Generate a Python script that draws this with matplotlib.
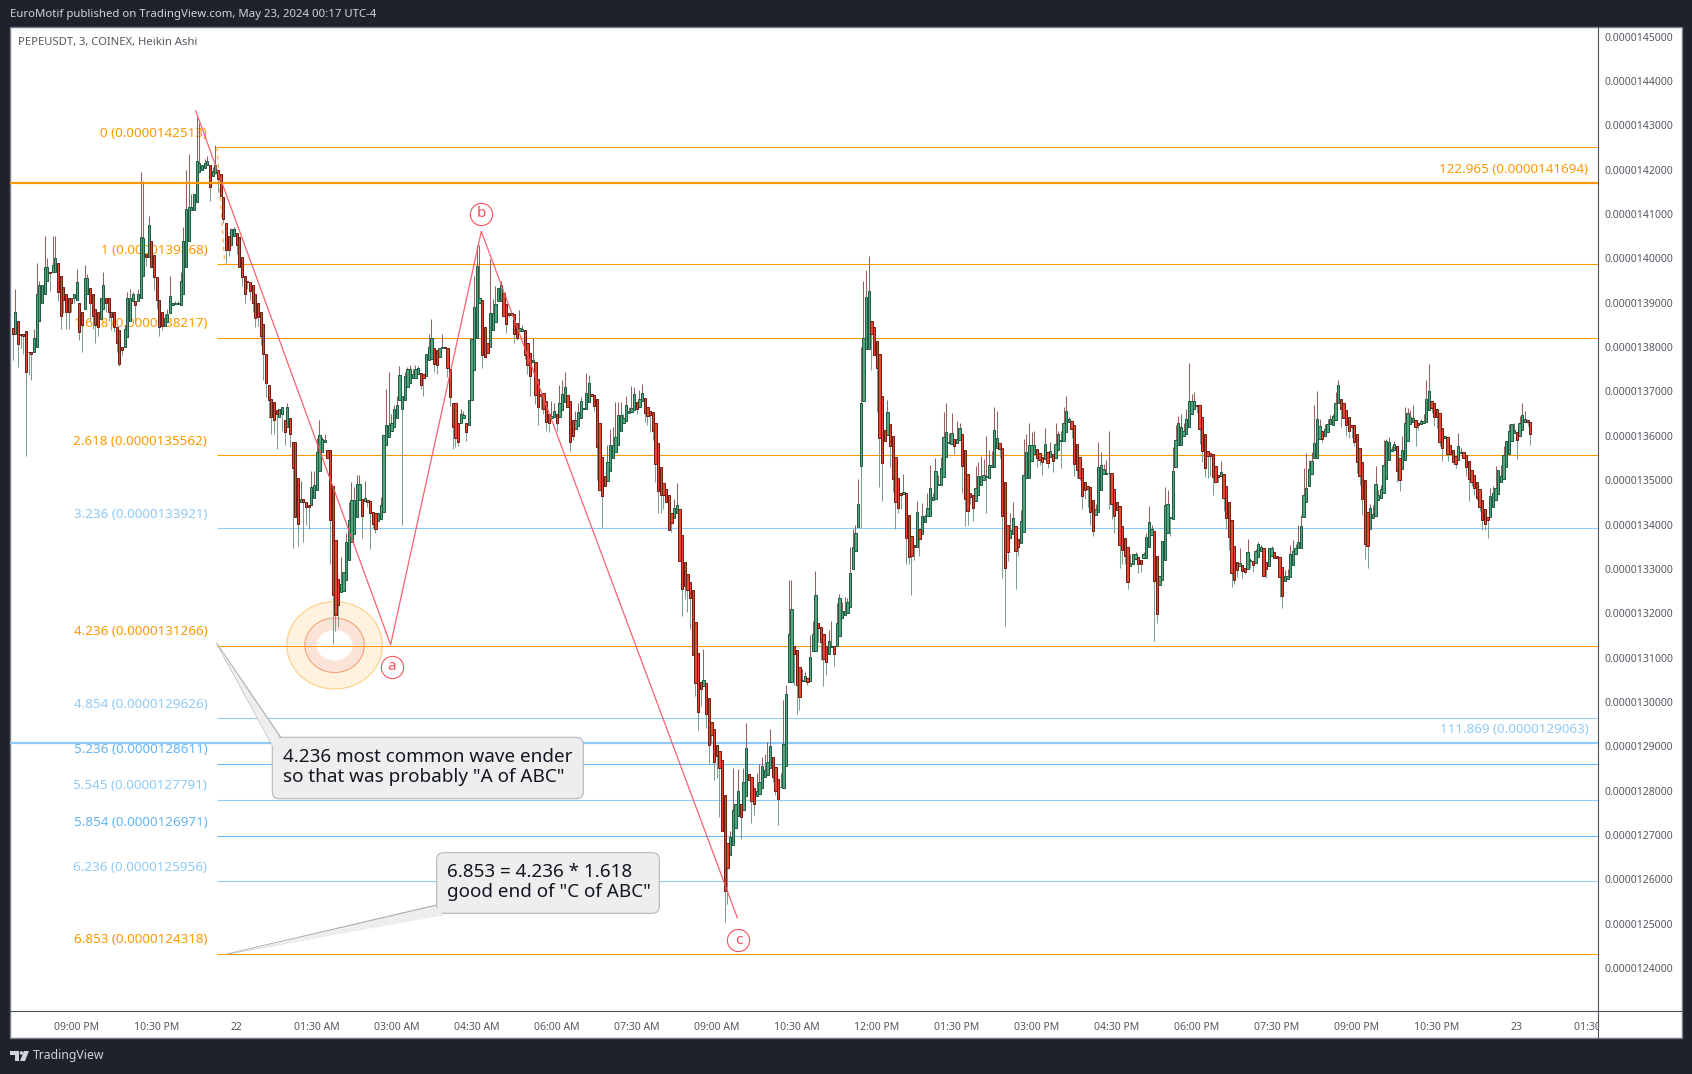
import numpy as np
import matplotlib
matplotlib.use("Agg")
import matplotlib.pyplot as plt
from matplotlib.patches import Ellipse, FancyBboxPatch, Polygon, Rectangle, Circle
from matplotlib.transforms import Affine2D, Bbox, TransformedBbox, IdentityTransform

plt.rcParams['font.family'] = ['Noto Sans', 'DejaVu Sans']

# Heikin Ashi candles (price in units of 0.00000001)
ha_open = [
    1384.3,1383,1386,1383,1383,1383.7,1379,1379,1379,1380,
    1386,1390,1392,1395,1397,1397,1397,1399,1396,1393.6,
    1392,1391,1391,1391,1390.6,1390,1388,1388.7,1392,1393.4,
    1392,1388.7,1388,1386.4,1388.7,1391,1391,1388,1388,1384.6,
    1383.8,1380,1380,1382.3,1386,1390.5,1390.5,1390.5,1391,1396,
    1401,1400.4,1404,1400.7,1395.8,1390.6,1388,1384.8,1385.7,1387.6,
    1389.6,1389.7,1389.7,1389.6,1392,1398,1404,1411,1411,1412.7,
    1419.5,1420,1420.5,1421,1421,1418.5,1419.3,1420,1419,1413.9,
    1408,1405,1403,1405,1405.8,1404.8,1400.3,1396,1395,1394.7,
    1394,1392,1390,1388,1385.3,1378.5,1371.5,1368.4,1367.6,1365.8,
    1364.2,1365,1363.5,1362,1364,1358.6,1358.6,1350.4,
    1345,1345.8,1345,1344.4,1344.3,1346,1347.7,1352,1356.4,1358.5,
    1356.7,1356.7,1348.7,1336.4,1327.8,1324.8,1325,1327.4,1332,1336,
    1337.9,1341.7,1345.5,1345.8,1345.2,1345.5,1345.4,1342.8,1342.5,1340.7,1341.2,1342.8,
    1358,1359.8,1361,1362,1364,1368,1366,1368,1371,1372,
    1373,1373,1374,1374.2,1374,1373.5,1377,1377.4,1379.7,1379.3,
    1377.8,1379.8,1380,1379.8,1375,1367.5,1367.3,1363,1363,1364,
    1363,1362.4,1368,1374.8,1382,1390,1390.6,1384.5,1381,1380,
    1383.8,1385.7,1390.3,1390.3,1392.3,1389.8,1387.8,1387.8,1387.5,1385.5,
    1383.6,1383.6,1383.8,1381,1378.7,1376.6,1376.6,1372.9,1369.5,1369.7,
    1367.8,1365,1364,1364.2,1365,1364.2,1365.8,1367.6,1369.3,1367.8,
    1363.5,1361.5,1362.3,1364,1366,1366,1367.6,1369.4,1369.2,1368.2,
    1363,1355.2,1351,1349.8,1352,1355,1356.4,1358,1361.2,1363,
    1363.3,1365.2,1365.3,1365.8,1367.6,1366.6,1367.8,1368.5,1366.6,1365.6,
    1365.4,1363,1358.4,1353,1349.3,1348,1346.7,1342.6,1341.5,1342.6,
    1343.4,1337.7,1331.6,1328.8,1327,1325.2,1318,1311,1304.5,1303.6,
    1304.2,1300.9,1295.5,1294,1290.2,1289,1287,1279,1268.2,1265.4,
    1267.7,1271.6,1274.3,1277,1275.7,1278.8,1283.8,1283,1280.5,1278.8,
    1279.3,1280.6,1283,1283.6,1285,1287.6,1285.3,1282.7,1280.7,1280.6,
    1285.6,1304.5,1304.5,1312.7,1311.6,1307.8,1304.8,1304.7,1305.3,1304.8,
    1311.5,1311.5,1317.8,1317,1315.2,1312.7,1310.7,1312.3,1312.7,1312.7,
    1314.8,1319,1319.7,1320,1321.4,1330,1334,1339.4,1353.3,1367.8,
    1379.6,1379.6,1386,1384.5,1381.3,1378.4,1368.9,1361.4,1360.2,1362.6,
    1360,1355.2,1350.5,1347,1346.8,1347,1342.2,1337.4,1335.3,1334.9,
    1339,1337.8,1340.6,1342,1342,1345.5,1345.8,1349,1349,1350.7,
    1355.2,1358.3,1358.2,1359.2,1358.4,1359,1360.5,1356.8,1351.3,1347.1,
    1346.6,1345.3,1346.6,1348.8,1350.1,1350.7,1350.4,1352.9,1352.9,1357.3,
    1358.4,1357.3,1349.6,1340,1337,1337.8,1339.7,1336.7,1335.8,1338.3,
    1350.5,1350.5,1354.3,1356,1357,1356.2,1355.2,1354.7,1356.4,1355.2,
    1355.8,1355,1356.7,1358.8,1358.8,1360.9,1363.1,1363.3,1362.4,1358.2,
    1355.2,1352.8,1349.6,1348.7,1348.5,1345.6,1342.2,1342.8,1347.7,1351.5,
    1351.4,1351.6,1351.6,1348,1345.1,1344.2,1339.7,1337,1335,1330.7,
    1331,1332.3,1332.7,1331.9,1332.5,1332.5,1335,1337.6,1338.5,1332.9,
    1326.3,1327.4,1332,1338,1341.4,1341.2,1353,1357.9,1357.9,1360,
    1360.4,1362,1365,1366.1,1367,1366.9,1364.3,1360.4,1356.6,1356.1,
    1355.8,1353.2,1351.2,1350.9,1351.3,1348.7,1345,1341,1335.2,1331.6,
    1330.7,1330.8,1330.2,1330,1331.7,1331.8,1331.3,1332.7,1334,1334.6,
    1331.6,1330.7,1333,1333.8,1333,1332.7,1330.4,1327.2,1327.8,1328.2,
    1330.8,1333.3,1334.7,1334.7,1341.8,1345,1348.7,1351.4,1355,1355,
    1359.2,1361.2,1360,1360.9,1362.7,1362.5,1363.5,1367.3,1368.2,1367.3,
    1365.9,1364.3,1362.5,1362.4,1360.4,1357.3,1354,1350,1342.8,1338.9,
    1341.4,1341.9,1345.5,1346,1347.1,1350.3,1354.5,1356.5,1356.7,1357.7,
    1354.9,1352.5,1354.5,1358.8,1362.6,1363.1,1363.6,1362.8,1362.7,1363,
    1363.1,1365.8,1367.9,1367.3,1366,1365.2,1361.8,1359.6,1359.7,1357.9,
    1356.9,1355.5,1354.6,1356.1,1356.3,1355.6,1354.3,1352.4,1351.2,1349.6,
    1347.9,1345.6,1343.6,1341.8,1341.7,1344,1345.5,1346.8,1349.6,1350.2,
    1353,1355.8,1358.8,1360.7,1360.9,1360,1361.4,1363.2,1363.5,1363.2,
]
ha_close = [
    1383,1388,1380.6,1382.8,1382.5,1374.4,1378.8,1378.5,1382,1392,
    1394,1394,1398,1398,1396.7,1398.5,1400,1392.5,1387,1390.6,
    1388,1388,1390,1392,1394.7,1383.5,1385,1395.5,1395.6,1390,
    1387,1385,1384.5,1391,1394,1390,1388,1386.8,1384.5,1381,
    1376.3,1379.3,1384,1391,1391,1392,1389.5,1392,1404.8,1404.5,
    1400.3,1407.5,1398,1395.8,1390.6,1384.6,1384.8,1386.5,1387.5,1391.5,
    1389.9,1390,1390,1395,1404,1411.2,1411.5,1411.5,1414.6,1422,
    1421.5,1421,1421.5,1422,1416,1419.7,1421,1418,1414,1408.9,
    1402,1402,1406.7,1406.7,1403,1398,1395.8,1392,1394.6,1392.6,
    1390,1386.5,1386.8,1382.5,1378.5,1371.8,1368,1364.3,1363.5,1365,
    1366,1366.5,1360.9,1366.5,1360.5,1352.8,1341.7,1340.2,
    1345.8,1345,1344,1344,1348.5,1349,1356.4,1360.1,1359.2,1359,
    1355,1341,1324,1319.5,1321.8,1326.7,1329.3,1336,1341,1345.5,
    1345.5,1349.2,1349.2,1342,1345.9,1345,1342.5,1340.2,1339,1342.5,1344.3,1360.1,
    1362.5,1362.5,1363,1366,1367,1373.7,1369,1373.5,1375,1375,
    1374,1375,1375.2,1371.5,1373,1378.5,1380,1382,1376.3,1376,
    1379.8,1380,1379.8,1375.3,1368.8,1362,1359.4,1358.6,1365,1364.6,
    1360.9,1368,1381.9,1389,1398.3,1391,1378.3,1377.8,1378.7,1387.8,
    1387.8,1389.8,1393.3,1394,1387,1385.3,1387.3,1387.2,1383,1382,
    1384.3,1384,1378.3,1376,1373.6,1377,1369.1,1366.5,1369,1366,
    1363.1,1362.8,1364.4,1365.5,1363,1367.5,1369.5,1371,1366.5,1358.6,
    1360,1363.5,1365.3,1367.8,1366.2,1369.7,1371.8,1369,1366.7,1357.5,
    1347.7,1346.4,1348.7,1354,1358,1358,1359.7,1364.6,1364.6,1364,
    1367,1365.5,1366.3,1369.5,1366,1368.3,1369.7,1365.2,1364.5,1364.8,
    1361,1353.6,1347.5,1346.6,1346.6,1345,1338.7,1340.3,1343.7,1344.4,
    1331.7,1325.4,1326.1,1325.3,1323.4,1310.5,1304.3,1297.7,1303,1304.9,
    1297.2,1290.2,1292.5,1286.5,1287.8,1285,1271,1257.4,1262.5,1269.5,
    1275.6,1277,1279.9,1274,1282,1289.5,1282.3,1277.7,1277,1280,
    1282,1285.6,1284.7,1286.5,1290,1283,1280,1278.2,1280.9,1290.4,
    1301.8,1315.4,1321,1310.7,1303.7,1301.2,1305,1305.8,1304.4,1310.1,
    1315.2,1324.2,1316.6,1313.5,1309.6,1309,1313.7,1312.7,1310.7,1317.8,
    1323.4,1320.6,1320.6,1322.5,1329,1335,1338,1344.7,1367.5,1382,
    1391.3,1392.6,1382.9,1378.3,1375.3,1359.5,1353.9,1358.8,1365.4,1357.7,
    1350.3,1345,1343.7,1346.6,1347.3,1337,1332.6,1333,1334.9,1342.8,
    1336.8,1341.9,1341.9,1343.7,1348.2,1346.2,1352,1349.2,1352.7,1359.7,
    1360.8,1358.6,1360.6,1357.8,1359.3,1361.8,1353.2,1345.7,1343,1346.2,
    1343.7,1348.2,1351,1351,1351.2,1350.9,1353.4,1353.5,1361.4,1359.5,
    1357,1341.9,1330.2,1333.8,1338.7,1341.5,1334,1335,1340.7,1351.2,
    1356.4,1357.9,1357.9,1358,1355,1354.5,1354.1,1358.2,1353.8,1356.5,
    1354.3,1358.2,1360.5,1359,1362.9,1365.6,1363.7,1361.6,1353.6,1352.4,
    1350.5,1346.4,1347.7,1348,1342.8,1338.5,1343.6,1353,1353.4,1352.6,
    1351.6,1351.7,1344.7,1342,1343.2,1335.3,1334.2,1333,1327,1331.3,
    1333.4,1333.4,1331,1331.2,1333.4,1337.2,1340.6,1339,1327.2,1319.9,
    1328.5,1336.3,1344.5,1344.7,1341.6,1352,1359,1362.9,1362,1361,
    1363.7,1367.9,1367.9,1367.9,1366.7,1361.6,1356.6,1352.8,1355.5,1355.5,
    1350.7,1349.5,1350.7,1351.8,1346,1341.5,1337.2,1329,1327.6,1329.7,
    1331.3,1329.5,1329.4,1333.7,1331.9,1330.8,1334,1335.5,1334.9,1328.5,
    1329.9,1334.7,1334.7,1332.4,1332.4,1328.2,1323.9,1328.3,1328.5,1333.4,
    1334,1334.6,1336,1339.7,1346.7,1348.2,1352.6,1354.3,1358.4,1363.7,
    1362.2,1359.2,1361.6,1362.7,1363.7,1364.5,1367.4,1371.5,1366,1364.1,
    1362.5,1361,1362,1358.6,1354.1,1351,1345.7,1335.7,1335.2,1343.7,
    1342.3,1349.1,1346.7,1348,1353.5,1358.8,1358.6,1357.1,1358.2,1352,
    1350,1356.7,1363,1365.2,1364.3,1364,1362,1362.4,1363.3,1363.4,
    1368.2,1370.1,1366.2,1364.3,1364.3,1358.6,1357.3,1360,1355.8,1355.8,
    1354,1353.7,1357.6,1356.3,1355,1353,1350.3,1349.6,1348.2,1346,
    1344,1341,1340.2,1341,1346.4,1347.1,1348.2,1352.2,1351,1355.7,
    1358.8,1361.1,1362.7,1361.4,1359,1362.9,1364.8,1363.7,1363.2,1360.4,
]
upper_wick = [
    0,5,0,0,0,0,0,0,2,7,
    1,0,7,2,0,6.5,5,0,0,0,
    0,0,0,0,3,0,0,3,1,0,
    0,0,0,0,3,0,0,0,0,0,
    0,0,1,1.5,2,0.5,0,1,14.7,13,
    0,2,0,0,0,0,0,1,1,4.5,
    0,0.5,0.3,2,3,8.8,12,3,0,10,
    9,0,1,1,0,1,4.5,0,0,0,
    0,0,0,0.5,0,0,0,0,0,0,
    0,0,0,0,0,0,0,0,0,0,
    0,0,0,1,0,0,0,0,
    4,0,0,0,3.5,3,3,3.5,0.5,1.5,
    0,0,0,0,0,6,0,2,4,4,
    3,2,2,0,4,0,0,0,0,0,2,0,
    8,12,2,1,2,2,0,1,0.5,1,
    1,1,0.5,0,0,0,3,4.4,0,0,
    0,3,0,0,0,0,0,0,1,1,
    0,0,0,7,4.7,12,0,0,0,12,
    3,4,0,1,0,0,0,0,0,0,
    4,1,0,0,0,5,0,0,0,0,
    0,0,3.5,2,0,4,3,3.5,0,0,
    0,2,2,1,0,4.5,2,0,0,0,
    0,0,0,4,3.5,4,8,3,3,1,
    2,1,5,1.5,0,2,2,0,0,0,
    0,0,0,0,0,0,0,0,2,5,
    0,0,0,0,0,0,0,0,0,7,
    0,0,0,0,0,0,0,0,0,1.5,
    9.5,0,5,0,3,5.7,0,0,0,4,
    4,2,3.5,4.5,4,0,0,0,3,10,
    2,12,6.5,0,0,0,2.5,1,0,5,
    3,5.4,0,0,0,0,2.5,5.5,0,4.5,
    1,2,3,1,6,4,2,5.5,12.5,13,
    6,8,0,0,0,0,0,0,2.6,0,
    0,0,0,0,4,0,0,0,0,2.5,
    0,3,0.5,3.4,5.3,1,3,2,2.6,5.6,
    6.7,2,4.6,0,4,1,0,0,0,0,
    0,5,3,4.5,3.5,9,3.5,3,5,6,
    0,0,0,0,4,3.5,0,0,2.5,8,
    4,5,3,3,0,0,0,3.5,0,2,
    0,4.8,0.5,2,3.5,3.3,0.5,0,0,0,
    0,0,0,0,0,0,1,5.5,3,1,
    3,9.5,0,0,0,0,0,0,0,2,
    0,0.5,0,0,0.5,1,3.5,1,0,0,
    0,0,4,3,0,5.5,3.5,1.5,3,2,
    2.3,8.6,1.5,2,0,0,0,0,0,0,
    0,0,0,2.5,0,0,0,0,0,0,
    3.5,0,0,3,0.5,0,0.5,0.5,0.5,0,
    0,0,0.5,0,0,0,0,1.5,1.5,2,
    2.5,1,4,2.5,6,8,2,2,8.5,6.5,
    1.5,0,1,1,1,0.5,2.5,1,0,0,
    0,0,0,0,0,0,0,0,0,1,
    2,4,1,1,5.5,0.5,1.2,0.5,0.7,0,
    0,3.3,3.5,1,1.5,3,0,0,0.5,1.5,
    4.5,6,0,0,0,0,0,0,0,0,
    0,0,3,1,0,0,0,0,0,0,
    0,0,0,0,1.8,1.5,5,0,2.5,2,
    0,1.5,0,1.5,0,1.5,2.7,2,0,0,
]
lower_wick = [
    6,0,5,3,4,19,5,6,0,0,
    0,0,0,0,4,0,0,2,3,3,
    4,4,2,1,0,2,6,0,0,4,
    3,4,2,0,0,2,2,3,1,2,
    0.5,1,0,0,0,0,4,0,0,0,
    2,0,0,3,2,2,1,0,0,0,
    0,0,0,0,0,0,0,0,0,0,
    0,0,0,0,3,0,0,3,0,1,
    3,1.5,0,0,2,0,2,2,1.5,2,
    2,2,2,2,6,3,4,4,3,8,
    0,4,3,0,3,18,0,5,
    0,9,4,5,0,0,0,0,0,0,
    0,10,11,3.6,5,0,0,0,0,0,
    0,0,0,5,0,1,8,1,1,0,0,0,
    0,0,0,0,0,0,26,0,0,0,
    0,0,0,1,4,0,0,0,2,2,
    0,0,0,2,2,5,2,1,0,0,
    2,0,0,0,0,0,3,0,0,0,
    0,0,0,0,0,2,0.5,0,2,0.5,
    0,0,1,2,4.6,0,2,4,3,1,
    2,2,0,0,2,0,0,0,0,2,
    1,0,0,0,0,0,0,0,1,7.5,
    0,7,0,0,0,0,0,0,0,0,
    0,0,0,0,1,0,0,2,2,4,
    2,4,5,4,3,0,0,2,0,0,
    0,6,3,5,7,0,3,4,4,0,
    3,4,2,4,5,11,0,7,8,0,
    0,0,0,5,0,0,0,5,2.5,0,
    0,0,0,0,0,1,1,6,0,0,
    0,0,0,7,6.5,3,0,0,0.5,0,
    0,0,3,4,6,3,0,0,2.5,0,
    0,0,0,0,0,0,0,0,14,0,
    0,0,8,0,10,11,8.5,0,0,4.7,
    3,6,1,3,0,6,1.5,9,3,0,
    4,0,0,0,0,0,0,0,0,0,
    0,0,0,2,0,0,6,6,3,1.5,
    3,0,0,0,0,8,0,0,0,0,
    2,14,13,2,0,0,8.5,2,0,0,
    0,0,0,0,2,1,3,0,1,0,
    2.5,0,0,6,0,0,0,2,2.7,2,
    0.5,3,2,4,3,1,0,0,0,0,
    0,8,3.5,4,0,5,3,2,1.5,0,
    0,0,2,2,0,0,0,0,13.5,2,
    0,0,0,0,4,0,0,0,0,0,
    0,0,0,0,1.5,3.4,2.4,2,5,4.5,
    4,0,1,0,3,2.4,2.9,3,1,1.5,
    0,1.5,0.5,0,1.5,1.5,0,0,0,0,
    2,0,0,0,0,4.5,2.7,0,0,0,
    0,0,0,0,0,0,0,0,0,0,
    0,0.5,0,0,0,0,0,0,4,0,
    2.5,1.5,2.5,1,2.5,2,3.5,3.5,5,0,
    0,0,0,0,0,0,0,0,0,2.5,
    2.5,0,0,0,0,0,4.2,1,0,0,
    0,0,1,2,2.5,1,3,0,1.5,0,
    0,1,0,0,0,2,5,1,1.5,0.5,
    1,2.3,1.5,4,0,0,0,0,0,0,
    0,0,0,0,4.2,0,0,0,1,2.5,
]

# Fibonacci levels
fib_ratio = ["0", "1", "1.618", "2.618", "3.236", "4.236", "4.854", "5.236", "5.545", "5.854", "6.236", "6.853"]
fib_price = [1425.13, 1398.68, 1382.17, 1355.62, 1339.21, 1312.66, 1296.26, 1286.11, 1277.91, 1269.71, 1259.56, 1243.18]
fib_color = ["#ff9800", "#ff9800", "#ff9800", "#ff9800", "#90caf9", "#ff9800", "#90caf9", "#64b5f6", "#90caf9", "#64b5f6", "#90caf9", "#ff9800"]
fib_text = ["0.0000142513", "0.0000139868", "0.0000138217", "0.0000135562", "0.0000133921", "0.0000131266",
            "0.0000129626", "0.0000128611", "0.0000127791", "0.0000126971", "0.0000125956", "0.0000124318"]

# ABC wave
wave_x = [68.6, 141.7, 175.7, 271.7]
wave_y = [1433.3, 1312.9, 1406.1, 1251.3]
wave_names = ["a", "b", "c"]
wave_name_x = [142.1, 175.7, 272.1]
wave_name_y = [1307.9, 1410.1, 1246.3]

price_ticks = list(range(1240, 1460, 10))
time_pos = [24 + 30 * k for k in range(20)]
time_labels = ["09:00 PM", "10:30 PM", "22", "01:30 AM", "03:00 AM", "04:30 AM", "06:00 AM", "07:30 AM", "09:00 AM",
               "10:30 AM", "12:00 PM", "01:30 PM", "03:00 PM", "04:30 PM", "06:00 PM", "07:30 PM", "09:00 PM",
               "10:30 PM", "23", "01:30 AM"]

W, H = 1692, 1074
DARK = "#1e222d"
GRAY_LINE = "#50535e"
TXT = "#555862"
GREEN_FILL, GREEN_EDGE = "#52a67e", "#1e5a40"
RED_FILL, RED_EDGE = "#e8472f", "#6a1b12"
PINK = "#f7525f"

fig = plt.figure(figsize=(W / 100, H / 100), dpi=100, facecolor=DARK)
# pixel coordinates, top-left origin
pix = Affine2D().scale(1, -1).translate(0, H)

fig.add_artist(Rectangle((10, 27), 1672, 1011, transform=pix, facecolor="white", edgecolor="#787b86", lw=1, zorder=-1))

ax = fig.add_axes([10 / W, 1 - 1011 / H, 1588 / W, 984 / H], facecolor="none")
ax.set_xlim(-1.01, 594.4)
ax.set_ylim(1230.3, 1452.19)

o = np.array(ha_open)
c = np.array(ha_close)
idx = np.arange(len(o))
top = np.maximum(o, c)
bot = np.minimum(o, c)
up = c >= o

# Highlight rings under the candles
ax.add_patch(Ellipse((120.7, 1312.77), 35.8, 19.7, facecolor="#fff3e0", edgecolor="#ffcc80", lw=0.8, zorder=1))
ax.add_patch(Ellipse((120.7, 1312.77), 22.3, 12.3, facecolor="#fbe3d8", edgecolor="#f5a27a", lw=0.8, zorder=1.1))
ax.add_patch(Ellipse((120.7, 1312.77), 13.5, 6.9, facecolor="white", edgecolor="none", zorder=1.2))

# Fib levels and labels
fib_start = 76.6
for ratio, price, col, txt in zip(fib_ratio, fib_price, fib_color, fib_text):
    ax.plot([fib_start, 594.4], [price, price], color=col, lw=0.75, zorder=1.5, solid_capstyle="butt")
    ax.annotate(f"{ratio} ({txt})", xy=(fib_start, price), xytext=(-7, 10), textcoords="offset points",
                ha="right", va="center", color=col, fontsize=9.7, zorder=1.6)
ax.plot([fib_start, 79.5], [1425.13, 1398.68], color="#ff9800", lw=1, ls=(0, (3, 3)), alpha=0.7, zorder=1.5)

# Candles
ax.vlines(idx, top, top + np.array(upper_wick), color="#93635f", lw=0.75, zorder=2.5)
ax.vlines(idx, bot - np.array(lower_wick), bot, color="#7d9f90", lw=0.75, zorder=2.5)
ax.bar(idx[up], (top - bot)[up], bottom=bot[up], width=0.82, color=GREEN_FILL, edgecolor=GREEN_EDGE, lw=0.7, zorder=3)
ax.bar(idx[~up], (top - bot)[~up], bottom=bot[~up], width=0.82, color=RED_FILL, edgecolor=RED_EDGE, lw=0.7, zorder=3)

# Horizontal rays
ax.plot([-1.01, 594.4], [1416.94, 1416.94], color="#ff9800", lw=1.6, zorder=4)
ax.plot([-1.01, 594.4], [1290.63, 1290.63], color="#90caf9", lw=1.6, zorder=2)
ax.annotate("122.965 (0.0000141694)", xy=(594.4, 1416.94), xytext=(-7, 10), textcoords="offset points",
            ha="right", va="center", color="#ff9800", fontsize=9.7, zorder=4)
ax.annotate("111.869 (0.0000129063)", xy=(594.4, 1290.63), xytext=(-7, 10), textcoords="offset points",
            ha="right", va="center", color="#90caf9", fontsize=9.7, zorder=4)

# ABC wave
ax.plot(wave_x, wave_y, color=PINK, lw=0.9, alpha=0.9, zorder=4)
for name, nx, ny in zip(wave_names, wave_name_x, wave_name_y):
    ax.plot([nx], [ny], marker="o", ms=16, mfc="white", mec=PINK, mew=0.8, zorder=4.5)
    ax.text(nx, ny, name, color=PINK, fontsize=11, ha="center", va="center", zorder=4.6)

# Axes
for side in ["top", "left"]:
    ax.spines[side].set_visible(False)
for side in ["right", "bottom"]:
    ax.spines[side].set_color(GRAY_LINE)
ax.yaxis.tick_right()
ax.set_yticks(price_ticks)
ax.set_yticklabels([f"{v * 1e-8:.10f}" for v in price_ticks])
ax.tick_params(axis="y", length=0, pad=5, labelsize=7.5, labelcolor=TXT)
ax.set_xticks(time_pos)
ax.set_xticklabels(time_labels)
ax.tick_params(axis="x", length=0, pad=8, labelsize=7.5, labelcolor=TXT)
clip = TransformedBbox(Bbox([[0, 0], [1598, H]]), IdentityTransform())
for lbl in ax.get_xticklabels():
    lbl.set_clip_box(clip)
    lbl.set_clip_on(True)
    if lbl.get_text() in ("22", "23"):
        lbl.set_fontweight("bold")

# Price and time axis borders down to the panel edge
fig.add_artist(plt.Line2D([1598, 1598], [1011, 1038], transform=pix, color=GRAY_LINE, lw=0.8))
fig.add_artist(plt.Line2D([1598, 1682], [1011, 1011], transform=pix, color=GRAY_LINE, lw=0.8))


def callout(x0, y0, x1, y1, tail, lines):
    fig.add_artist(Polygon(tail, closed=True, transform=pix, facecolor="#eeeeee", edgecolor="#a8abb4", lw=0.8, zorder=5))
    fig.add_artist(FancyBboxPatch((x0 + 7, y0 + 7), x1 - x0 - 14, y1 - y0 - 14, boxstyle="round,pad=7,rounding_size=7",
                                  transform=pix, facecolor="#eeeeee", edgecolor="#b2b5be", lw=0.8, zorder=5.1))
    inner = [(tail[1][0] - 1, tail[1][1] + 2), (tail[2][0] + 1, tail[2][1] + 2), tail[0]]
    fig.add_artist(Polygon(inner, closed=True, transform=pix, facecolor="#eeeeee", edgecolor="none", zorder=5.2))
    for tx, ty, s in lines:
        fig.text(tx, ty, s, transform=pix, fontsize=13.6, color="#131722", va="center", ha="left", zorder=5.3)


callout(272.3, 737.3, 583.3, 798.7, [(216.7, 643.3), (280.7, 737.3), (272.3, 745)],
        [(283.3, 757.3, "4.236 most common wave ender"), (283.3, 777.3, 'so that was probably "A of ABC"')])
callout(436.7, 852.7, 659.3, 913.3, [(227.3, 954), (436.7, 905), (443.3, 913.3)],
        [(447.3, 872.3, "6.853 = 4.236 * 1.618"), (447.3, 892.3, 'good end of "C of ABC"')])

# Header, chart title, footer
fig.text(10, 14.5, "EuroMotif published on TradingView.com, May 23, 2024 00:17 UTC-4", transform=pix,
         color="#d1d4dc", fontsize=8.2, va="center")
fig.text(18, 42, "PEPEUSDT, 3, COINEX, Heikin Ashi", transform=pix, color=TXT, fontsize=8.1, va="center")
fig.text(33, 1056, "TradingView", transform=pix, color="#d1d4dc", fontsize=8.8, va="center")
# TradingView mark
fig.add_artist(Polygon([(10, 1051), (19, 1051), (19, 1061), (15, 1061), (15, 1055), (10, 1055)], transform=pix,
                       facecolor="#d1d4dc", edgecolor="none"))
fig.add_artist(Circle((21.5, 1053), 1.8, transform=pix, facecolor="#d1d4dc", edgecolor="none"))
fig.add_artist(Polygon([(24, 1051), (29, 1051), (25, 1061), (20, 1061)], transform=pix,
                       facecolor="#d1d4dc", edgecolor="none"))

fig.savefig("out.png", dpi=100, facecolor=DARK)
